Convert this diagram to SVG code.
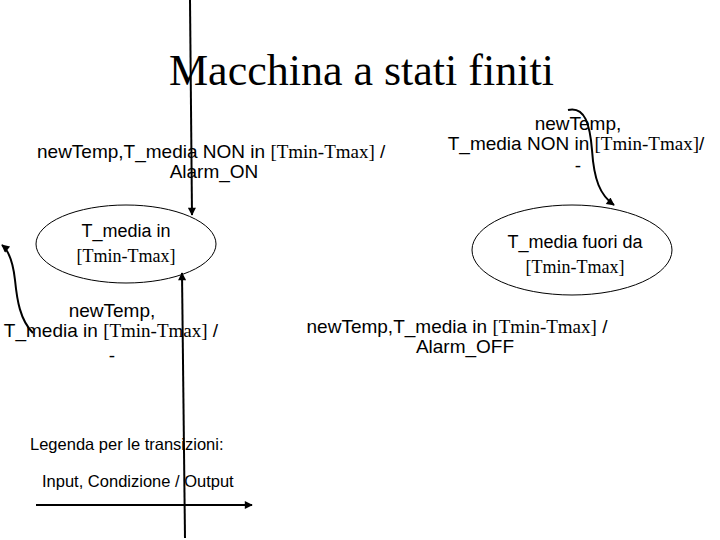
<svg xmlns="http://www.w3.org/2000/svg" width="720" height="540" viewBox="0 0 720 540">
<style>
.t{font-family:"Liberation Sans",Arial,sans-serif;font-size:19px;fill:#000}
.e{font-size:18px}
.s{font-family:"Liberation Serif","Times New Roman",serif}
.lg{font-family:"Liberation Sans",Arial,sans-serif;font-size:16.5px;fill:#000}
.st{fill:none;stroke:#000;stroke-width:1}
.c{fill:none;stroke:#000;stroke-width:2}
</style>
<defs>
<marker id="ahb" viewBox="0 0 10 10" refX="9" refY="5" markerWidth="10" markerHeight="8" orient="auto" markerUnits="userSpaceOnUse">
<path d="M0,0 L10,5 L0,10 z" fill="#000"/>
</marker>
</defs>
<rect width="720" height="540" fill="#fff"/>
<text x="169" y="85" class="s" font-size="44">Macchina a stati finiti</text>
<g id="state-in">
<ellipse cx="126" cy="244" rx="90" ry="39" class="st"/>
<text x="126" y="237" class="t e" text-anchor="middle">T_media in</text>
<text x="126" y="262" class="t e s" text-anchor="middle">[Tmin-Tmax]</text>
</g>
<g id="state-out">
<ellipse cx="572" cy="250" rx="100" ry="45" class="st"/>
<text x="575" y="248" class="t e" text-anchor="middle">T_media fuori da</text>
<text x="575" y="273" class="t e s" text-anchor="middle">[Tmin-Tmax]</text>
</g>
<g id="connectors">
<path d="M190,0 L192,215" class="c" marker-end="url(#ahb)"/>
<path d="M568,110 C585,106 590,125 592,150 C594,180 600,195 614,205" class="c" marker-end="url(#ahb)"/>
<path d="M33,333 C20,320 17,300 15,280 C13,262 8,250 2,245" class="c" marker-end="url(#ahb)"/>
<path d="M185,538 L182,273" class="c" marker-end="url(#ahb)"/>
<path d="M36,505 L252,505" class="c" marker-end="url(#ahb)"/>
</g>
<g id="labels">
<text x="37" y="158" class="t">newTemp,T_media NON in <tspan class="s">[Tmin-Tmax]</tspan> /</text>
<text x="214" y="178" class="t" text-anchor="middle">Alarm_ON</text>
<text x="578" y="130" class="t" text-anchor="middle">newTemp,</text>
<text x="576" y="150" class="t" text-anchor="middle">T_media NON in <tspan class="s">[Tmin-Tmax]</tspan>/</text>
<text x="578" y="172" class="t" text-anchor="middle">-</text>
<text x="112" y="317" class="t" text-anchor="middle">newTemp,</text>
<text x="111" y="337" class="t" text-anchor="middle">T_media in <tspan class="s">[Tmin-Tmax]</tspan> /</text>
<text x="112" y="362" class="t" text-anchor="middle">-</text>
<text x="457" y="333" class="t" text-anchor="middle">newTemp,T_media in <tspan class="s">[Tmin-Tmax]</tspan> /</text>
<text x="465" y="353" class="t" text-anchor="middle">Alarm_OFF</text>
<text x="30" y="450" class="lg">Legenda per le transizioni:</text>
<text x="42" y="487" class="lg" font-size="17px">Input, Condizione / Output</text>
</g>
</svg>
